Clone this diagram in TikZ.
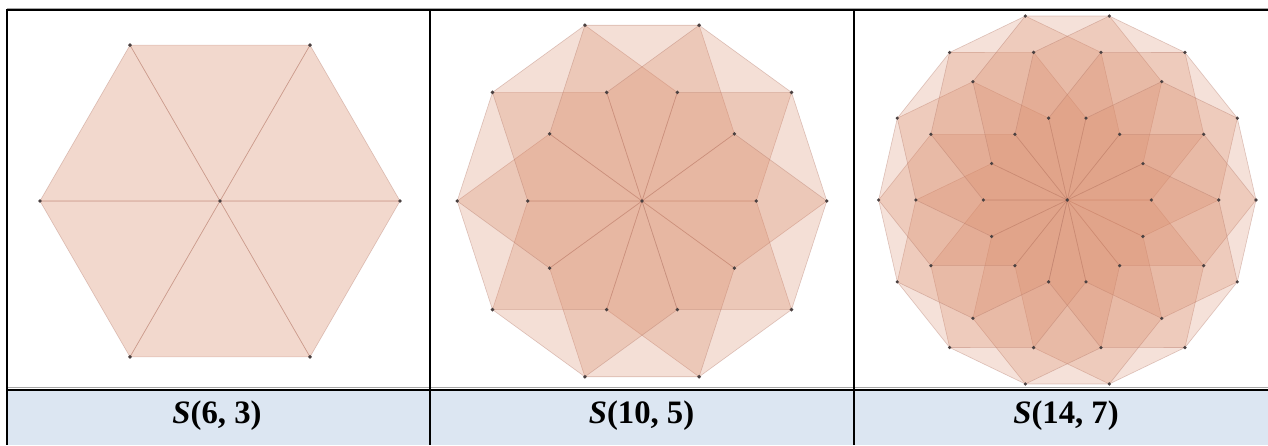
\documentclass[tikz,border=0pt]{standalone}
\usepackage{fontspec}
\setmainfont{Liberation Serif}
\definecolor{polyfill}{RGB}{218,138,104}
\definecolor{polyline}{RGB}{175,115,100}
\definecolor{dotcol}{RGB}{75,65,65}
\definecolor{labelbg}{RGB}{220,230,242}
\begin{document}
\begin{tikzpicture}[x=1pt,y=-1pt,
  poly/.style={fill=polyfill, fill opacity=0.27, draw=polyline, draw opacity=0.38, line width=0.6pt, line join=round},
  vdot/.style={fill=dotcol},
  rule/.style={line width=2pt, black},
  lbl/.style={font=\fontsize{32.7}{36}\selectfont\bfseries, anchor=base, inner sep=0pt}]
\useasboundingbox (0,0) rectangle (1268,445);
\fill[white] (0,0) rectangle (1268,445);
\fill[labelbg] (7,389.5) rectangle (1268,445);

% ---- S(6,3)
\begin{scope}[shift={(220,201)}]
  \foreach \i in {0,...,5}{
    \filldraw[poly, fill opacity=0.33] (0,0) -- (\i*60:180) -- (\i*60+60:180) -- cycle;
  }
  \foreach \i in {0,...,5} \fill[vdot] (\i*60:180) circle (1.9);
  \fill[vdot] (0,0) circle (1.9);
\end{scope}

% ---- S(10,5)
\begin{scope}[shift={(642,201)}]
  \foreach \i in {0,...,9}{
    \pgfmathsetmacro\al{\i*36}
    \filldraw[poly] (0,0) -- (\al:114.2) -- (\al+36:184.8) -- (\al+72:184.8) -- (\al+108:114.2) -- cycle;
  }
  \foreach \i in {0,...,9}{
    \fill[vdot] (\i*36:114.2) circle (1.9);
    \fill[vdot] (\i*36:184.8) circle (1.9);
  }
  \fill[vdot] (0,0) circle (1.9);
\end{scope}

% ---- S(14,7)
\begin{scope}[shift={(1067.3,200)}]
  \foreach \i in {0,...,13}{
    \pgfmathsetmacro\al{\i*360/14}
    \pgfmathsetmacro\s{360/14}
    \filldraw[poly, fill opacity=0.25] (0,0) -- (\al:84) -- (\al+\s:151.4) -- (\al+2*\s:188.7)
      -- (\al+3*\s:188.7) -- (\al+4*\s:151.4) -- (\al+5*\s:84) -- cycle;
  }
  \foreach \i in {0,...,13}{
    \pgfmathsetmacro\al{\i*360/14}
    \fill[vdot] (\al:84) circle (1.8);
    \fill[vdot] (\al:151.4) circle (1.8);
    \fill[vdot] (\al:188.7) circle (1.8);
  }
  \fill[vdot] (0,0) circle (1.9);
\end{scope}

% ---- table rules
\draw[gray!70, line width=1pt] (7,8) -- (1268,8);
\draw[gray!70, line width=1pt] (7,387.5) -- (1268,387.5);
\draw[rule] (6,10) -- (1268,10);
\draw[rule] (7,9) -- (7,445);
\draw[rule] (430,9) -- (430,445);
\draw[rule] (854,9) -- (854,445);
\draw[rule] (6,389.8) -- (1268,389.8);

% ---- labels
\node[lbl] (l1) at (217,423.5) {\textit{S}(6, 3)};
\node[lbl] (l2) at (641.5,423.5) {\textit{S}(10, 5)};
\node[lbl] (l3) at (1066,423.5) {\textit{S}(14, 7)};
\end{tikzpicture}
\end{document}
